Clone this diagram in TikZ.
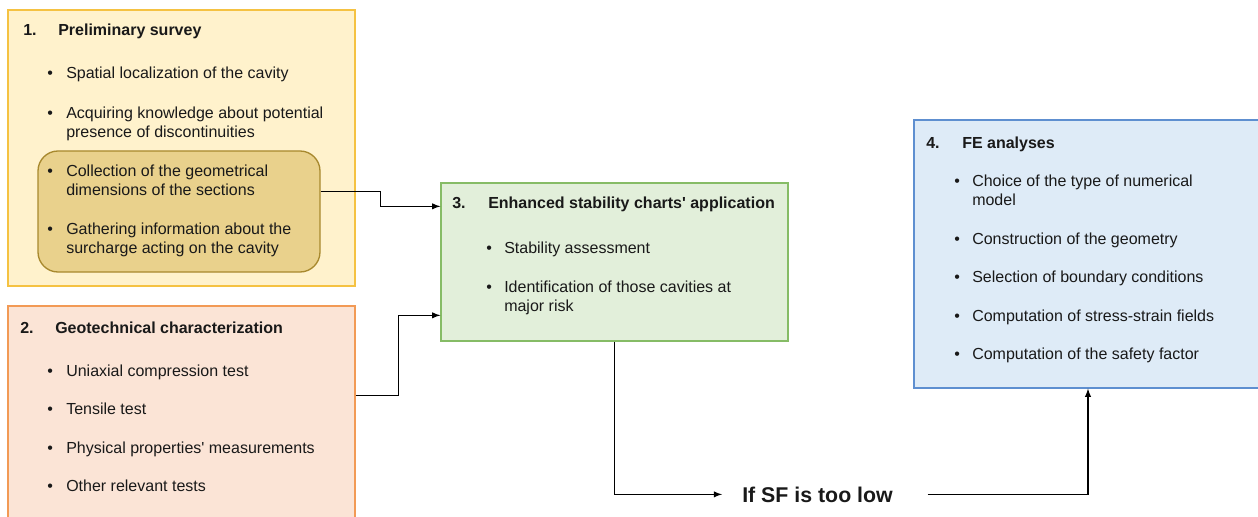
\documentclass[tikz,border=0pt]{standalone}
\usepackage{fontspec}
\setmainfont{Liberation Sans}
\usetikzlibrary{arrows,fit}

\definecolor{survfill}{HTML}{FFF2CC}
\definecolor{survline}{HTML}{F5C242}
\definecolor{geomfill}{HTML}{E9D18C}
\definecolor{geomline}{HTML}{A8892E}
\definecolor{geofill}{HTML}{FBE4D6}
\definecolor{geoline}{HTML}{F29A55}
\definecolor{chartfill}{HTML}{E2EFDA}
\definecolor{chartline}{HTML}{86BC66}
\definecolor{fefill}{HTML}{DEEBF7}
\definecolor{feline}{HTML}{5E8FD0}

\newcommand{\twoline}[2]{\begin{tabular}[t]{@{}l@{}}#1\\#2\end{tabular}}

\begin{document}
\begin{tikzpicture}[>=latex,x=0.75pt,y=-0.75pt,
  every node/.style={font=\fontsize{12}{14.25}\selectfont,text=black!90},
  box/.style={line width=1pt,inner sep=0pt},
  head/.style={anchor=base west,inner sep=0pt,font=\fontsize{12}{14.25}\selectfont\bfseries},
  item/.style={anchor=base west,inner sep=0pt},
  dot/.style={anchor=base west,inner sep=0pt},
  arr/.style={->,line width=1.1pt}]

\useasboundingbox (0,0) rectangle (1258,517);

% boxes
\node[box,draw=survline,fill=survfill,fit={(8,10)(355,286)}] (survey) {};
\node[box,draw=geomline,fill=geomfill,rounded corners=15pt,fit={(38,151)(320,272)}] (geom) {};
\node[box,draw=geoline,fill=geofill,fit={(8,306)(355,530)}] (tests) {};
\node[box,draw=chartline,fill=chartfill,fit={(441,183)(788,341)}] (charts) {};
\node[box,draw=feline,fill=fefill,fit={(914,120)(1262,388)}] (fe) {};

% 1. preliminary survey
\node[head] (n1) at (23,36) {1.};
\node[head] (h1) at (58,36) {Preliminary survey};
\foreach \y/\t [count=\i] in {79/Spatial localization of the cavity,
  118/{\twoline{Acquiring knowledge about potential}{presence of discontinuities}},
  176/{\twoline{Collection of the geometrical}{dimensions of the sections}},
  234/{\twoline{Gathering information about the}{surcharge acting on the cavity}}}{
  \node[dot] (sb\i) at (47,\y) {\textbullet};
  \node[item] (s\i) at (66,\y) {\t};
}

% 2. geotechnical characterization
\node[head] (n2) at (20,333) {2.};
\node[head] (h2) at (55,333) {Geotechnical characterization};
\foreach \y/\t [count=\i] in {376/Uniaxial compression test,
  414/Tensile test,
  453/Physical properties\textquotesingle{} measurements,
  491/Other relevant tests}{
  \node[dot] (gb\i) at (47,\y) {\textbullet};
  \node[item] (g\i) at (66,\y) {\t};
}

% 3. stability charts
\node[head] (n3) at (452,209) {3.};
\node[head] (h3) at (488,209) {Enhanced stability charts\textquotesingle{} application};
\foreach \y/\t [count=\i] in {253/Stability assessment,
  292/{\twoline{Identification of those cavities at}{major risk}}}{
  \node[dot] (cb\i) at (486,\y) {\textbullet};
  \node[item] (c\i) at (504,\y) {\t};
}

% 4. FE analyses
\node[head] (n4) at (926,148) {4.};
\node[head] (h4) at (962,148) {FE analyses};
\foreach \y/\t [count=\i] in {186/{\twoline{Choice of the type of numerical}{model}},
  244/Construction of the geometry,
  282/Selection of boundary conditions,
  321/Computation of stress-strain fields,
  359/Computation of the safety factor}{
  \node[dot] (fb\i) at (954,\y) {\textbullet};
  \node[item] (f\i) at (972,\y) {\t};
}

\node[anchor=base west,inner sep=0pt,font=\fontsize{16}{19}\selectfont\bfseries] (sf) at (742,502) {If SF is too low};

% connectors
\draw[arr] ([yshift=15pt]geom.east) -- ++(60,0) |- ([yshift=-18pt]charts.north west);
\draw[arr] ([yshift=-67.5pt]tests.north east) -- ++(43,0) |- ([yshift=-99.75pt]charts.north west);
\draw[arr] (charts.south) |- ([xshift=-15pt]sf.west);
\draw[arr] ([xshift=26pt]sf.east) -| (fe.south);

\end{tikzpicture}
\end{document}
